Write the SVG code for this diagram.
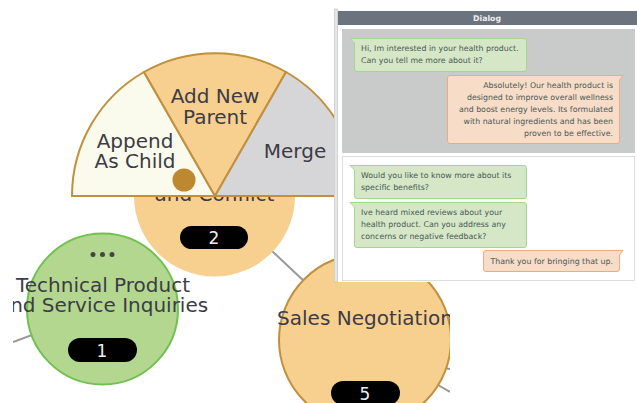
<svg xmlns="http://www.w3.org/2000/svg" width="637" height="403" viewBox="0 0 637 403">
<style>
text{font-family:"DejaVu Sans",sans-serif;fill:#333}
.n{font-size:20px;text-anchor:middle;fill:#3c3c46}
.b{font-size:17px;text-anchor:middle;fill:#eee}
.m{font-size:7.85px;fill:#4a5a55}
.r{text-anchor:end}
.g{fill:#d5e7c7;stroke:#a5d690}
.o{fill:#f7dcc8;stroke:#eeaa80}
.w{stroke:#c0903c;stroke-width:2}
</style>
<defs>
<clipPath id="c"><rect x="13" y="0" width="437" height="403"/></clipPath>
<clipPath id="f"><rect x="0" y="0" width="335" height="403"/></clipPath>
</defs>
<rect width="637" height="403" fill="#fff"/>
<g id="connectors" stroke="#999" stroke-width="2" fill="none" clip-path="url(#c)">
<line x1="272" y1="251" x2="305" y2="282"/>
<line x1="13" y1="342" x2="32" y2="335"/>
<line x1="438" y1="385" x2="450" y2="392"/>
<line x1="444" y1="368" x2="450" y2="369"/>
</g>
<g clip-path="url(#c)">
<g id="node-2">
<circle cx="214.500" cy="196" r="80.500" fill="#f7cf8f"/>
<text class="n" x="214.500" y="201">and Conflict</text>
<rect x="180" y="226" width="68" height="23" rx="11.500" fill="#000"/>
<text class="b" x="214" y="244">2</text>
</g>
<g id="node-1">
<circle cx="102.500" cy="309" r="75.500" fill="#b3d78f" stroke="#71c051" stroke-width="2"/>
<circle cx="93" cy="254.500" r="2.500" fill="#444"/><circle cx="102.500" cy="254.500" r="2.500" fill="#444"/><circle cx="112" cy="254.500" r="2.500" fill="#444"/>
<text class="n" x="103" y="292">Technical Product</text>
<text class="n" x="103" y="312">and Service Inquiries</text>
<rect x="68" y="338" width="69" height="24" rx="12" fill="#000"/>
<text class="b" x="102" y="357">1</text>
</g>
<g id="node-5">
<circle cx="365" cy="340" r="86" fill="#f7cf8f" stroke="#c0903c" stroke-width="2"/>
<text class="n" x="365" y="325">Sales Negotiation</text>
<rect x="331" y="381" width="69" height="24" rx="12" fill="#000"/>
<text class="b" x="365" y="400">5</text>
</g>
</g>
<g id="menu" clip-path="url(#f)">
<path class="w" d="M72 196A143 143 0 0 1 144 72L215 196Z" fill="#fafbec"/>
<path class="w" d="M144 72A143 143 0 0 1 286 72L215 196Z" fill="#f7cf8f"/>
<path class="w" d="M286 72A143 143 0 0 1 358 196L215 196Z" fill="#d6d6d8"/>
<text class="n" x="135" y="148">Append</text>
<text class="n" x="135" y="168">As Child</text>
<text class="n" x="215" y="103">Add New</text>
<text class="n" x="215" y="124">Parent</text>
<text class="n" x="295" y="158">Merge</text>
<circle cx="184" cy="180" r="11.500" fill="#be8830"/>
</g>
<g id="dialog">
<rect x="334" y="9" width="303" height="273" fill="#fff"/>
<rect x="334.500" y="9" width="3" height="273" fill="#e4e6e8" stroke="#bbb" stroke-width="0.600"/>
<rect x="338" y="11" width="299" height="14" fill="#6b737e"/>
<text x="487" y="20.500" text-anchor="middle" style="font-size:7.800px;font-weight:bold;fill:#eee">Dialog</text>
<rect x="342" y="29" width="293" height="124" fill="#c9cbca"/>
<rect x="342.500" y="156.500" width="292" height="124" fill="#fff" stroke="#ddd"/>
<path class="g" d="M350 38.500H524a2.500 2.500 0 0 1 2.500 2.500V69a2.500 2.500 0 0 1-2.500 2.500H357a2.500 2.500 0 0 1-2.500-2.500V43Z"/>
<text class="m" x="361" y="51">Hi, Im interested in your health product.</text>
<text class="m" x="361" y="63">Can you tell me more about it?</text>
<path class="o" d="M623 75.500L619.500 80V141a2.500 2.500 0 0 1-2.500 2.500H450a2.500 2.500 0 0 1-2.500-2.500V78a2.500 2.500 0 0 1 2.500-2.500Z"/>
<text class="m r" x="613" y="88">Absolutely! Our health product is</text>
<text class="m r" x="613" y="100">designed to improve overall wellness</text>
<text class="m r" x="613" y="112">and boost energy levels. Its formulated</text>
<text class="m r" x="613" y="124">with natural ingredients and has been</text>
<text class="m r" x="613" y="136">proven to be effective.</text>
<path class="g" d="M350 165.500H524a2.500 2.500 0 0 1 2.500 2.500V196a2.500 2.500 0 0 1-2.500 2.500H357a2.500 2.500 0 0 1-2.500-2.500V170Z"/>
<text class="m" x="361" y="178">Would you like to know more about its</text>
<text class="m" x="361" y="190">specific benefits?</text>
<path class="g" d="M350 202.500H524a2.500 2.500 0 0 1 2.500 2.500V245a2.500 2.500 0 0 1-2.500 2.500H357a2.500 2.500 0 0 1-2.500-2.500V207Z"/>
<text class="m" x="361" y="215">Ive heard mixed reviews about your</text>
<text class="m" x="361" y="227">health product. Can you address any</text>
<text class="m" x="361" y="239">concerns or negative feedback?</text>
<path class="o" d="M623 250.500L619.500 255V269a2.500 2.500 0 0 1-2.500 2.500H486a2.500 2.500 0 0 1-2.500-2.500V253a2.500 2.500 0 0 1 2.500-2.500Z"/>
<text class="m r" x="613" y="264">Thank you for bringing that up.</text>
</g>
</svg>
